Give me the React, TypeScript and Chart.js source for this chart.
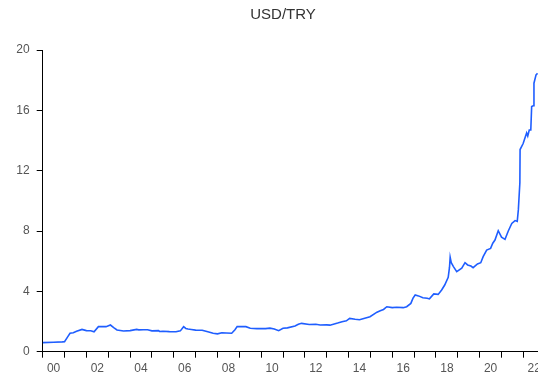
import React, { useEffect, useRef } from "react";
import { Chart, registerables } from "chart.js";

Chart.register(...registerables);

const chartTitle = "USD/TRY";

// decimal year of each observation
const obsYears = [
  2000.0, 2000.5, 2000.9, 2001.0, 2001.15, 2001.25, 2001.4, 2001.55, 2001.8,
  2002.0, 2002.2, 2002.35, 2002.55, 2002.9, 2003.1, 2003.25, 2003.4, 2003.7,
  2004.0, 2004.3, 2004.4, 2004.6, 2004.8, 2005.0, 2005.3, 2005.35, 2005.5, 2005.8,
  2006.1, 2006.3, 2006.45, 2006.55, 2006.65, 2006.8, 2007.0, 2007.3, 2007.6, 2007.8,
  2008.0, 2008.2, 2008.4, 2008.65, 2008.8, 2008.9, 2009.3, 2009.5, 2009.8,
  2010.2, 2010.4, 2010.6, 2010.8, 2011.0, 2011.2, 2011.55, 2011.7, 2011.85,
  2012.2, 2012.5, 2012.7, 2013.0, 2013.15, 2013.5, 2013.7, 2013.9,
  2014.05, 2014.3, 2014.5, 2014.7, 2014.98, 2015.3, 2015.45, 2015.6, 2015.75,
  2016.0, 2016.2, 2016.5, 2016.66, 2016.85, 2016.95, 2017.05, 2017.2, 2017.4,
  2017.6, 2017.7, 2017.9, 2018.1, 2018.26, 2018.4, 2018.56, 2018.62, 2018.65,
  2018.7, 2018.8, 2018.95, 2019.18, 2019.33, 2019.45, 2019.6, 2019.7, 2019.9,
  2020.05, 2020.16, 2020.32, 2020.5, 2020.6, 2020.7, 2020.85, 2021.0, 2021.16,
  2021.31, 2021.47, 2021.62, 2021.72, 2021.77, 2021.84, 2021.85, 2021.99,
  2022.08, 2022.15, 2022.2, 2022.27, 2022.34, 2022.38, 2022.45, 2022.485,
  2022.58, 2022.65,
];

// USD/TRY rate at each observation
const usdTry = [
  0.6, 0.63, 0.65, 0.66, 1.0, 1.22, 1.25, 1.35, 1.48,
  1.4, 1.39, 1.32, 1.66, 1.66, 1.77, 1.6, 1.44, 1.37,
  1.4, 1.48, 1.45, 1.46, 1.46, 1.38, 1.4, 1.34, 1.36, 1.33,
  1.32, 1.38, 1.66, 1.54, 1.5, 1.47, 1.43, 1.42, 1.31, 1.22,
  1.18, 1.25, 1.24, 1.22, 1.45, 1.66, 1.66, 1.55, 1.53,
  1.53, 1.56, 1.51, 1.39, 1.55, 1.58, 1.7, 1.82, 1.88,
  1.8, 1.82, 1.77, 1.78, 1.76, 1.9, 1.99, 2.05,
  2.21, 2.15, 2.12, 2.2, 2.32, 2.62, 2.72, 2.8, 2.98,
  2.92, 2.95, 2.92, 2.98, 3.2, 3.55, 3.76, 3.7, 3.58,
  3.54, 3.5, 3.83, 3.8, 4.09, 4.42, 4.93, 5.6, 6.26,
  5.9, 5.64, 5.31, 5.53, 5.9, 5.75, 5.68, 5.57, 5.82,
  5.9, 6.3, 6.74, 6.85, 7.19, 7.4, 8.02, 7.59, 7.45,
  8.0, 8.5, 8.69, 8.64, 9.4, 11.2, 13.4, 13.8,
  14.2, 14.5, 14.3, 14.7, 14.7, 16.25, 16.3, 17.8,
  18.35, 18.46,
];

const yTickValues = [0, 4, 8, 12, 16, 20];
const xStartYear = 2000;
const xEndYear = 2022.67;

export default function App() {
  const canvasRef = useRef<HTMLCanvasElement | null>(null);

  useEffect(() => {
    document.body.style.margin = "0";
    const canvas = canvasRef.current;
    if (!canvas) return;
    const points = obsYears.map((x, i) => ({ x, y: usdTry[i] }));
    const font = "'Liberation Sans', Arial, sans-serif";

    const chart = new Chart(canvas, {
      type: "line",
      data: {
        datasets: [
          {
            label: chartTitle,
            data: points,
            borderColor: "#1f5eff",
            borderWidth: 1.6,
            pointRadius: 0,
            tension: 0,
            fill: false,
          },
        ],
      },
      options: {
        animation: false,
        responsive: false,
        maintainAspectRatio: false,
        layout: { padding: { left: 0, right: -28, top: 0, bottom: 0 } },
        plugins: {
          legend: { display: false },
          tooltip: { enabled: false },
          title: {
            display: true,
            text: chartTitle,
            color: "#333",
            font: { family: font, size: 15, weight: "normal" },
            padding: { top: 6, bottom: 26 },
          },
        },
        scales: {
          x: {
            type: "linear",
            min: xStartYear,
            max: xEndYear,
            grid: {
              drawOnChartArea: false,
              drawTicks: true,
              tickLength: 6,
              tickColor: (ctx: any) =>
                ctx.tick && Number.isInteger(ctx.tick.value) ? "#000" : "rgba(0,0,0,0)",
            },
            border: { display: true, color: "#000", width: 1 },
            ticks: {
              stepSize: 0.5,
              autoSkip: false,
              includeBounds: false,
              maxRotation: 0,
              padding: 4,
              color: "#555",
              font: { family: font, size: 12 },
              callback: (v: any) => {
                const n = Number(v);
                const yr = Math.floor(n);
                if (Math.abs(n - yr - 0.5) < 1e-6 && yr % 2 === 0) {
                  return String(yr % 100).padStart(2, "0");
                }
                return "";
              },
            },
            afterFit: (scale: any) => {
              scale.height = 27.3;
              scale.paddingLeft = 0;
              scale.paddingRight = 0;
            },
          },
          y: {
            type: "linear",
            min: 0,
            max: 20,
            afterBuildTicks: (scale: any) => {
              scale.ticks = yTickValues.map((value) => ({ value }));
            },
            grid: {
              drawOnChartArea: false,
              drawTicks: true,
              tickLength: 6,
              tickColor: "#000",
            },
            border: { display: true, color: "#000", width: 1 },
            ticks: {
              padding: 7,
              color: "#555",
              font: { family: font, size: 12 },
            },
            afterFit: (scale: any) => {
              scale.width = 42.7;
            },
          },
        },
      },
    });

    return () => chart.destroy();
  }, []);

  return (
    <div style={{ width: 538, height: 379 }}>
      <canvas ref={canvasRef} width={538} height={379} />
    </div>
  );
}
